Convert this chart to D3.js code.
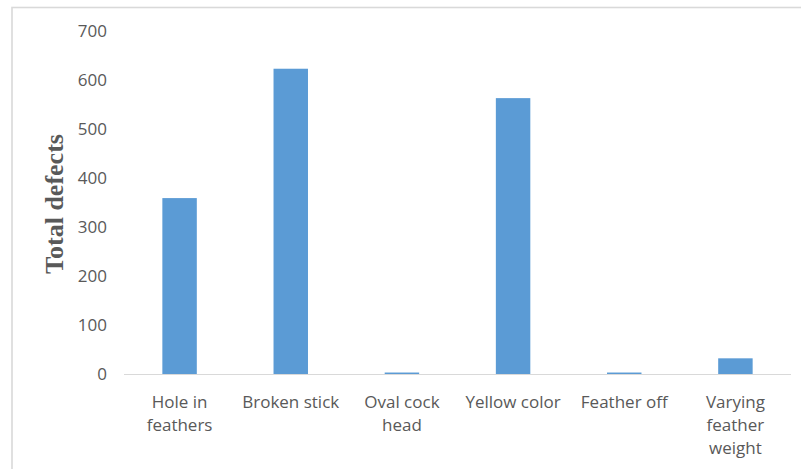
<!DOCTYPE html>
<html>
<head>
<meta charset="utf-8">
<script src="https://cdn.jsdelivr.net/npm/d3@7"></script>
<style>
  html, body { margin: 0; padding: 0; background: #fff; }
  svg { display: block; }
</style>
</head>
<body>
<svg id="chart" width="801" height="469"></svg>
<script>
// Shuttlecock defect counts by defect type
const categories = [
  ["Hole in", "feathers"],
  ["Broken stick"],
  ["Oval cock", "head"],
  ["Yellow color"],
  ["Feather off"],
  ["Varying", "feather", "weight"]
];
const totals = [359, 623, 3, 563, 3, 32];
const yTicks = [0, 100, 200, 300, 400, 500, 600, 700];

const svg = d3.select("#chart");
const W = 801, H = 469;
const margin = { left: 124, right: 10, top: 31, bottom: 95 };
const plotW = W - margin.left - margin.right;
const y0 = 374;

// chart frame
svg.append("rect")
  .attr("x", 12).attr("y", 7.5)
  .attr("width", 800).attr("height", 480)
  .attr("fill", "#fff").attr("stroke", "#d9d9d9").attr("stroke-width", 1.6);

const keys = categories.map(c => c.join(" "));
const x = d3.scaleBand().domain(keys).range([margin.left, margin.left + plotW]).paddingInner(0.69).paddingOuter(0.345);
const y = d3.scaleLinear().domain([0, 700]).range([y0, margin.top]);

// bars
svg.append("g").selectAll("rect")
  .data(totals)
  .join("rect")
  .attr("x", (d, i) => x(keys[i]))
  .attr("width", x.bandwidth())
  .attr("y", d => y(d))
  .attr("height", d => y(0) - y(d))
  .attr("fill", "#5b9bd5");

// value axis labels
const yAxis = d3.axisLeft(y).tickValues(yTicks).tickSize(0).tickPadding(0);
const gy = svg.append("g").attr("transform", "translate(107,0)").call(yAxis);
gy.select(".domain").remove();
gy.selectAll("text")
  .attr("fill", "#595959")
  .style("font-family", "'Open Sans', sans-serif")
  .style("font-size", "17px");

// category axis line
svg.append("line")
  .attr("x1", margin.left).attr("x2", margin.left + plotW)
  .attr("y1", y0 + 0.5).attr("y2", y0 + 0.5)
  .attr("stroke", "#d9d9d9").attr("stroke-width", 1);

// category labels (multi-line)
const lab = svg.append("g").selectAll("text")
  .data(categories)
  .join("text")
  .attr("x", (d, i) => x(keys[i]) + x.bandwidth() / 2)
  .attr("y", 408)
  .attr("text-anchor", "middle")
  .attr("fill", "#595959")
  .style("font-family", "'Open Sans', sans-serif")
  .style("font-size", "17px");
lab.selectAll("tspan")
  .data(d => d)
  .join("tspan")
  .attr("x", function () { return this.parentNode.getAttribute("x"); })
  .attr("dy", (d, i) => i === 0 ? 0 : 23)
  .text(d => d);

// value axis title
svg.append("text")
  .attr("transform", "translate(63,204) rotate(-90)")
  .attr("text-anchor", "middle")
  .attr("fill", "#595959")
  .style("font-family", "'Liberation Serif', 'Times New Roman', serif")
  .style("font-weight", "bold")
  .style("font-size", "26px")
  .text("Total defects");
</script>
</body>
</html>
